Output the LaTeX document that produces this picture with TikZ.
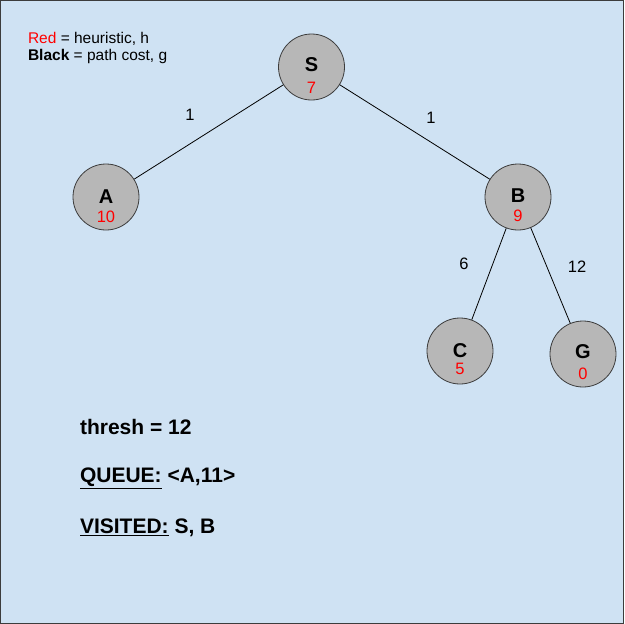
\documentclass[tikz,border=0pt]{standalone}
\usepackage{fontspec}
\setmainfont{Liberation Sans}
\definecolor{bg}{HTML}{CFE2F3}
\definecolor{nodefill}{HTML}{B7B7B7}
\definecolor{nodeline}{HTML}{3C3C3C}
\definecolor{hred}{HTML}{FF0000}
\begin{document}
\begin{tikzpicture}[x=1pt,y=-1pt,
  state/.style={circle,draw=nodeline,fill=nodefill,line width=0.8pt,minimum size=66pt,inner sep=0pt},
  letter/.style={font=\fontsize{20}{20}\selectfont\bfseries,anchor=center,inner sep=0pt},
  hval/.style={font=\fontsize{16.5}{16.5}\selectfont,text=hred,anchor=center,inner sep=0pt},
  edge/.style={draw=black,line width=0.8pt},
  cost/.style={font=\fontsize{16.5}{16.5}\selectfont,anchor=center},
  legend/.style={font=\fontsize{15.5}{15.5}\selectfont,anchor=west},
  info/.style={font=\fontsize{21}{21}\selectfont\bfseries,anchor=west}]
\useasboundingbox (0,0) rectangle (624,624);
\draw[fill=bg,draw=nodeline,line width=1pt] (0.5,0.5) rectangle (623.5,623.5);

% legend
\node[legend] (leg1) at (24.5,39) {\textcolor{hred}{Red} = heuristic, h};
\node[legend] (leg2) at (24.5,56) {\textbf{Black} = path cost, g};

% tree nodes
\node[state] (S) at (311.5,67) {};
\node[state] (A) at (106,197) {};
\node[state] (B) at (518,197) {};
\node[state] (C) at (460,351) {};
\node[state] (G) at (583,354) {};

% node name (offset from centre) and heuristic value (offset from centre)
\foreach \n/\l/\h/\dl/\dh in {S/S/7/2/-21,A/A/10/0/-20,B/B/9/1/-19,C/C/5/0/-17.5,G/G/0/2/-20}{
  \node[letter] (\n-name) at ([yshift=\dl pt]\n.center) {\l};
  \node[hval] (\n-h) at ([yshift=\dh pt]\n.center) {\h};
}

% edges
\draw[edge] (S) -- (A);
\draw[edge] (S) -- (B);
\draw[edge] (B) -- (C);
\draw[edge] (B) -- (G);

% edge costs
\node[cost] (cSA) at (190,115) {1};
\node[cost] (cSB) at (431,118) {1};
\node[cost] (cBC) at (464,264) {6};
\node[cost] (cBG) at (577,267) {12};

% search state
\node[info] (thresh) at (76.5,427) {thresh = 12};
\node[info] (queue) at (76.5,478) {\underline{QUEUE:} <A,11>};
\node[info] (visited) at (76.5,528) {\underline{VISITED:} S, B};
\end{tikzpicture}
\end{document}
